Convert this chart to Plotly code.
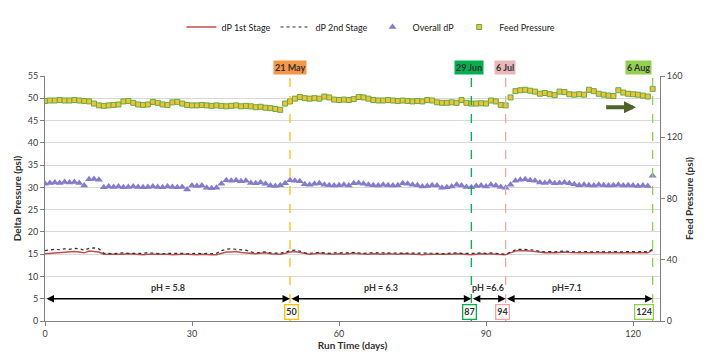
import plotly.graph_objects as go

days = list(range(0, 125))

feed_pressure = [
    143.7, 144.0, 144.0, 144.3, 144.0, 144.0, 144.3, 144.0, 143.7, 143.4,
    142.0, 140.8, 140.5, 140.8, 141.1, 141.4, 143.4, 143.7, 142.5, 141.4,
    141.1, 141.4, 143.1, 142.5, 141.4, 141.1, 142.8, 143.1, 142.0, 141.1,
    140.8, 140.8, 141.1, 140.8, 140.5, 140.8, 140.5, 140.2, 140.5, 140.8,
    140.2, 140.5, 140.2, 139.6, 139.9, 139.3, 139.0, 138.5, 137.9, 142.0,
    143.4, 145.2, 146.3, 145.5, 145.2, 145.5, 145.2, 146.6, 146.0, 144.6,
    144.3, 144.6, 144.3, 144.9, 146.3, 146.0, 145.2, 144.3, 144.0, 144.0,
    144.3, 144.0, 143.7, 144.0, 143.7, 143.4, 143.7, 143.4, 144.3, 144.0,
    142.8, 142.5, 142.5, 142.8, 142.5, 144.3, 142.5, 142.0, 142.0, 142.2,
    142.0, 144.0, 143.4, 141.1, 140.8, 146.0, 150.1, 150.7, 151.0, 150.4,
    149.8, 148.4, 148.9, 148.1, 147.5, 149.8, 149.5, 148.1, 147.8, 148.1,
    147.8, 151.0, 150.1, 148.4, 147.8, 147.2, 146.9, 150.7, 149.2, 148.4,
    148.1, 147.8, 147.2, 146.6, 151.6,
]

overall_dp = [
    30.8, 31.0, 31.1, 31.0, 31.2, 31.1, 31.2, 31.0, 30.4, 31.8,
    31.9, 31.7, 30.0, 30.2, 30.1, 30.2, 30.0, 30.1, 30.2, 30.1,
    30.0, 30.1, 30.2, 30.1, 30.0, 30.2, 30.1, 30.0, 30.1, 29.5,
    30.4, 30.3, 30.4, 29.9, 29.8, 29.9, 30.8, 31.6, 31.5, 31.6,
    31.4, 31.5, 31.0, 30.9, 31.1, 30.8, 30.4, 30.3, 30.5, 30.9,
    31.6, 31.5, 31.4, 30.7, 30.6, 30.8, 30.9, 30.6, 30.5, 30.4,
    30.5, 30.6, 30.4, 30.9, 31.0, 30.8, 30.6, 30.5, 30.4, 30.6,
    30.5, 30.4, 30.5, 30.9, 30.8, 30.6, 30.5, 30.2, 30.3, 30.5,
    30.4, 29.9, 30.0, 30.2, 30.6, 30.4, 30.1, 30.0, 30.3, 30.4,
    30.2, 30.6, 30.4, 30.1, 29.9, 30.6, 31.5, 31.7, 31.8, 31.6,
    31.5, 31.1, 31.0, 31.2, 30.9, 31.0, 31.1, 30.9, 30.7, 30.5,
    30.6, 30.5, 30.4, 30.6, 30.5, 30.4, 30.5, 30.6, 30.4, 30.5,
    30.4, 30.3, 30.4, 30.3, 32.6,
]

dp_1st = [
    15.1, 15.2, 15.2, 15.3, 15.5, 15.6, 15.6, 15.5, 15.3, 15.7,
    15.6, 15.5, 15.0, 15.0, 14.9, 15.0, 15.0, 15.1, 15.0, 15.0,
    14.9, 15.0, 15.0, 15.1, 15.0, 15.0, 14.9, 15.0, 15.0, 15.0,
    14.9, 14.9, 15.0, 14.9, 14.9, 14.9, 15.2, 15.5, 15.5, 15.6,
    15.4, 15.3, 15.2, 15.1, 15.2, 15.3, 15.1, 15.0, 15.0, 15.2,
    15.5, 15.6, 15.4, 15.1, 15.0, 15.1, 15.2, 15.1, 15.0, 15.0,
    15.1, 15.0, 15.1, 15.2, 15.1, 15.0, 15.0, 15.1, 15.0, 15.0,
    15.1, 15.0, 15.0, 15.1, 15.0, 15.0, 15.0, 14.9, 15.0, 15.0,
    15.0, 14.9, 15.0, 15.0, 15.1, 15.0, 15.0, 14.9, 15.0, 15.1,
    15.0, 15.1, 15.0, 15.0, 14.9, 15.3, 15.7, 15.8, 15.8, 15.7,
    15.6, 15.4, 15.3, 15.4, 15.3, 15.4, 15.5, 15.4, 15.3, 15.3,
    15.4, 15.3, 15.3, 15.4, 15.3, 15.3, 15.4, 15.3, 15.3, 15.4,
    15.3, 15.3, 15.4, 15.3, 15.9,
]

dp_2nd = [
    15.8, 16.0, 16.1, 16.0, 16.2, 16.1, 16.3, 16.2, 15.9, 16.3,
    16.4, 16.2, 15.2, 15.2, 15.1, 15.2, 15.3, 15.2, 15.2, 15.1,
    15.2, 15.3, 15.2, 15.2, 15.1, 15.2, 15.2, 15.3, 15.2, 15.1,
    15.2, 15.2, 15.1, 15.2, 15.1, 15.2, 15.8, 16.1, 16.2, 16.1,
    16.0, 15.9, 15.5, 15.3, 15.4, 15.5, 15.3, 15.2, 15.2, 15.4,
    15.8, 15.9, 15.7, 15.3, 15.2, 15.3, 15.4, 15.3, 15.2, 15.3,
    15.3, 15.2, 15.3, 15.4, 15.3, 15.2, 15.3, 15.3, 15.2, 15.3,
    15.3, 15.2, 15.3, 15.3, 15.2, 15.3, 15.2, 15.2, 15.3, 15.2,
    15.2, 15.1, 15.2, 15.3, 15.3, 15.2, 15.2, 15.1, 15.2, 15.3,
    15.2, 15.3, 15.2, 15.2, 15.0, 15.5, 16.0, 16.1, 16.1, 16.0,
    15.9, 15.6, 15.5, 15.6, 15.5, 15.6, 15.7, 15.6, 15.5, 15.5,
    15.6, 15.5, 15.5, 15.6, 15.5, 15.5, 15.6, 15.5, 15.5, 15.6,
    15.5, 15.5, 15.6, 15.5, 16.1,
]

event_days = [50, 87, 94, 124]
event_dates = ["21 May", "29 Jun", "6 Jul", "6 Aug"]
event_labels = ["50", "87", "94", "124"]
event_colors = ["#FFC000", "#00B050", "#F2A7A7", "#92D050"]
date_fills = ["#F79646", "#00B050", "#E6B9B8", "#92D050"]
ph_labels = ["pH = 5.8", "pH = 6.3", "pH =6.6", "pH=7.1"]
ph_positions = [25, 68.5, 90.5, 106.5]
segment_bounds = [0, 50, 87, 94, 124]

FONT = "Lato"
TXT = "#404040"

fig = go.Figure()
fig.add_trace(go.Scatter(x=days, y=dp_1st, name="dP 1st Stage", mode="lines",
                         line=dict(color="#C0504D", width=1.5)))
fig.add_trace(go.Scatter(x=days, y=dp_2nd, name="dP 2nd Stage", mode="lines",
                         line=dict(color="#2A2F3A", width=1.2, dash="dot")))
fig.add_trace(go.Scatter(x=days, y=overall_dp, name="Overall dP", mode="markers",
                         marker=dict(symbol="triangle-up", size=7, color="#857DCB",
                                     line=dict(width=0))))
fig.add_trace(go.Scatter(x=days, y=feed_pressure, name="Feed Pressure", mode="markers",
                         yaxis="y2",
                         marker=dict(symbol="square", size=5, color="#EDC534",
                                     line=dict(color="#66A848", width=1))))

shapes = []
annotations = []
for d, c in zip(event_days, event_colors):
    shapes.append(dict(type="line", xref="x", yref="paper", x0=d, x1=d, y0=0, y1=1,
                       line=dict(color=c, width=1.3, dash="dash")))

date_x = [50, 86.6, 93.8, 121.2]
for xd, t, f in zip(date_x, event_dates, date_fills):
    annotations.append(dict(x=xd, y=1.0, xref="x", yref="paper", text="<b>" + t + "</b>",
                            showarrow=False, yanchor="bottom", bgcolor=f,
                            font=dict(family=FONT, size=9, color="#333333"),
                            borderpad=1, yshift=1))

box_x = [50.3, 86.6, 93.4, 122.2]
for xd, t, c in zip(box_x, event_labels, event_colors):
    annotations.append(dict(x=xd, y=0, xref="x", yref="y", text="<b>" + t + "</b>",
                            showarrow=False, yanchor="bottom", bgcolor="white",
                            bordercolor=c, borderwidth=1.3, borderpad=1,
                            font=dict(family=FONT, size=9, color="#333333"), yshift=1))

for a, b in zip(segment_bounds[:-1], segment_bounds[1:]):
    annotations.append(dict(x=b, y=5, ax=a, ay=5, xref="x", yref="y", axref="x", ayref="y",
                            text="", showarrow=True, arrowhead=2, arrowsize=1,
                            arrowwidth=1.5, arrowcolor="black", arrowside="end+start"))

for xp, t in zip(ph_positions, ph_labels):
    annotations.append(dict(x=xp, y=7.6, xref="x", yref="y", text="<b>" + t + "</b>",
                            showarrow=False, font=dict(family=FONT, size=9, color="#333333")))

annotations.append(dict(x=120.6, y=48.0, ax=114.2, ay=48.0, xref="x", yref="y",
                        axref="x", ayref="y", text="", showarrow=True, arrowhead=2,
                        arrowsize=0.6, arrowwidth=4, arrowcolor="#4F6228"))

fig.update_layout(
    width=708, height=360,
    margin=dict(l=45, r=48, t=67, b=32),
    paper_bgcolor="white", plot_bgcolor="white",
    font=dict(family=FONT, size=10, color=TXT),
    showlegend=True,
    legend=dict(orientation="h", x=0.53, xanchor="center", y=1.2, yanchor="middle",
                font=dict(family=FONT, size=9, color="#222222"), itemwidth=30,
                bgcolor="rgba(0,0,0,0)"),
    xaxis=dict(range=[0, 125.5], tickvals=[0, 30, 60, 90, 120], showgrid=False,
               showline=True, linecolor="#808080", linewidth=1, ticks="outside",
               ticklen=4, tickcolor="#808080", zeroline=False,
               title=dict(text="<b>Run Time (days)</b>", standoff=2,
                          font=dict(family=FONT, size=10, color="#333333")),
               tickfont=dict(family=FONT, size=9, color=TXT)),
    yaxis=dict(range=[0, 55], dtick=5, showgrid=True, gridcolor="#D9D9D9", gridwidth=1,
               showline=True, linecolor="#808080", linewidth=1, ticks="outside",
               ticklen=4, tickcolor="#808080", zeroline=False,
               title=dict(text="<b>Delta Pressure (psi)</b>", standoff=4,
                          font=dict(family=FONT, size=10, color="#333333")),
               tickfont=dict(family=FONT, size=9, color=TXT)),
    yaxis2=dict(range=[0, 160], tickvals=[0, 40, 80, 120, 160], overlaying="y",
                side="right", showgrid=False, showline=True, linecolor="#808080",
                linewidth=1, ticks="outside", ticklen=4, tickcolor="#808080",
                zeroline=False,
                title=dict(text="<b>Feed Pressure (psi)</b>", standoff=4,
                           font=dict(family=FONT, size=10, color="#333333")),
                tickfont=dict(family=FONT, size=9, color=TXT)),
    shapes=shapes,
    annotations=annotations,
)

fig.write_html("out.html")
